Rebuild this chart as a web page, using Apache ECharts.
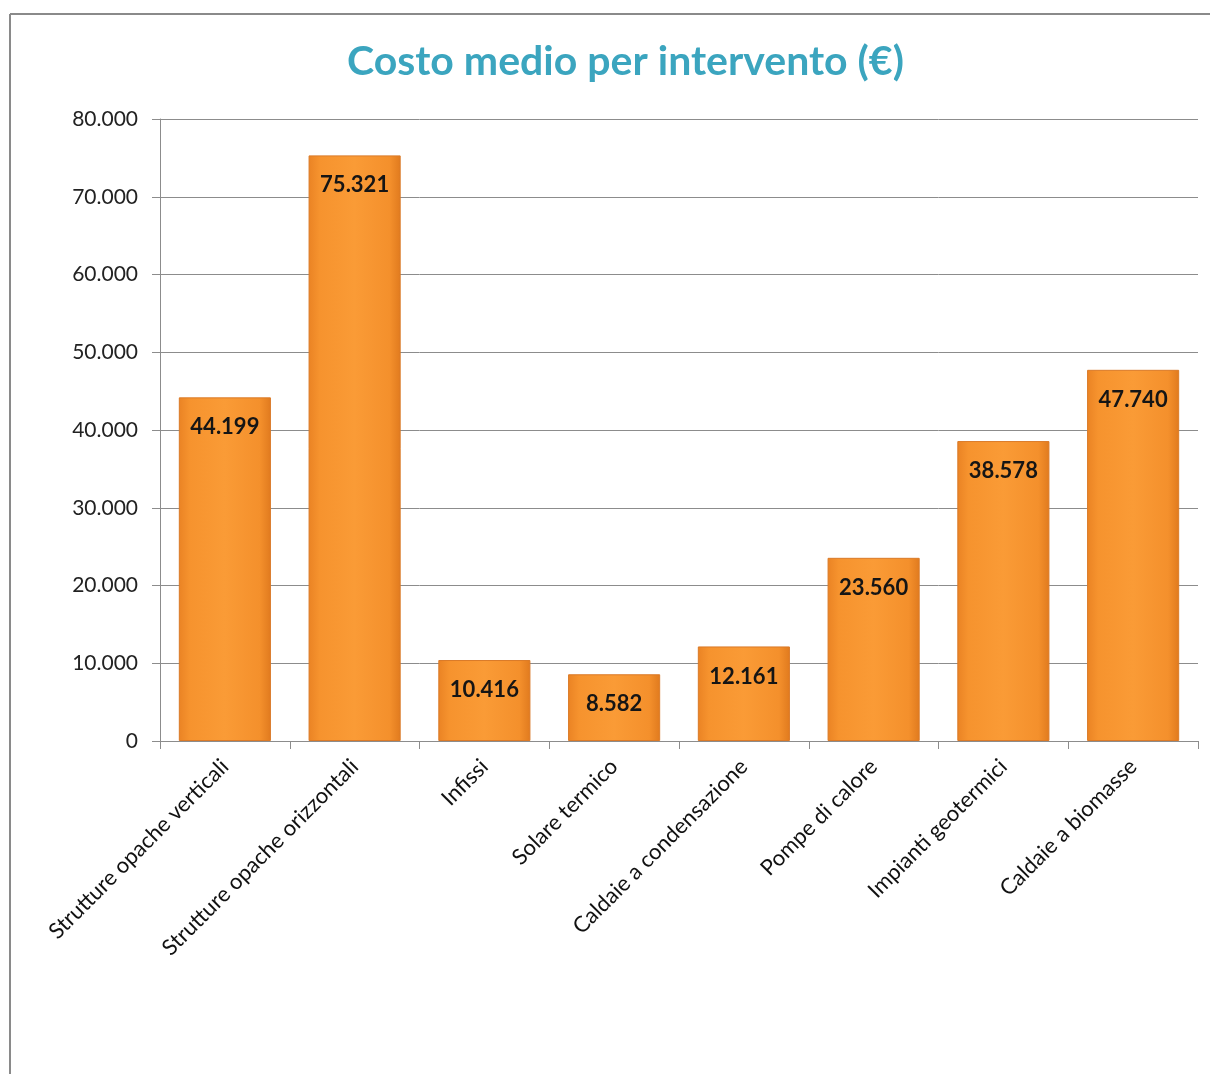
<!DOCTYPE html>
<html>
<head>
<meta charset="utf-8">
<script src="https://cdn.jsdelivr.net/npm/echarts@6/dist/echarts.min.js"></script>
<style>
html,body{margin:0;padding:0;background:#fff;}
#c{width:1221px;height:1074px;}
</style>
</head>
<body>
<div id="c"></div>
<script>
const categories = ["Strutture opache verticali","Strutture opache orizzontali","Infissi","Solare termico","Caldaie a condensazione","Pompe di calore","Impianti geotermici","Caldaie a biomasse"];
const values = [44199, 75321, 10416, 8582, 12161, 23560, 38578, 47740];
const yTicks = [0, 10000, 20000, 30000, 40000, 50000, 60000, 70000, 80000];
const titleText = "Costo medio per intervento (€)";

function fmt(v){ return String(v).replace(/\B(?=(\d{3})+(?!\d))/g, "."); }

const chart = echarts.init(document.getElementById('c'));
const font = "Lato, 'Open Sans', sans-serif";
chart.setOption({
  backgroundColor: '#fff',
  animation: false,
  title: {
    text: titleText, left: 342, top: 36,
    textStyle: {color: '#3BA5BF', fontSize: 41, fontWeight: 'bold', fontFamily: font}
  },
  graphic: [
    {type:'line', shape:{x1:10,y1:14,x2:1210,y2:14}, style:{stroke:'#8a8a8a', lineWidth:2}},
    {type:'line', shape:{x1:10,y1:14,x2:10,y2:1074}, style:{stroke:'#8a8a8a', lineWidth:2}}
  ],
  grid: {left: 160, right: 23, top: 119, bottom: 333, containLabel: false},
  xAxis: {
    type: 'category', data: categories,
    axisLine: {lineStyle: {color: '#8c8c8c', width: 1}},
    axisTick: {show: true, length: 8, lineStyle: {color: '#8c8c8c'}},
    axisLabel: {rotate: 45, fontSize: 22, color: '#111', fontFamily: font, margin: 22, interval: 0}
  },
  yAxis: {
    type: 'value', min: yTicks[0], max: yTicks[yTicks.length-1], interval: 10000,
    axisLine: {show: true, lineStyle: {color: '#8c8c8c'}},
    axisTick: {show: true, length: 8, lineStyle: {color: '#8c8c8c'}},
    axisLabel: {fontSize: 21, color: '#222', fontFamily: font, margin: 22, formatter: v => fmt(v)},
    splitLine: {lineStyle: {color: '#8c8c8c', width: 1}}
  },
  series: [{
    type: 'bar', data: values, barWidth: '71%',
    itemStyle: {
      color: new echarts.graphic.LinearGradient(0, 0, 1, 0, [
        {offset: 0, color: '#EA8324'},
        {offset: 0.12, color: '#F6932E'},
        {offset: 0.5, color: '#FA9B36'},
        {offset: 0.88, color: '#F4902C'},
        {offset: 1, color: '#E07A1E'}
      ]),
      borderColor: '#DA7A28', borderWidth: 1
    },
    label: {
      show: true, position: 'insideTop', distance: 19,
      fontSize: 22, fontWeight: 'bold', color: '#151515', fontFamily: font,
      formatter: p => fmt(p.value)
    }
  }]
});
</script>
</body>
</html>
